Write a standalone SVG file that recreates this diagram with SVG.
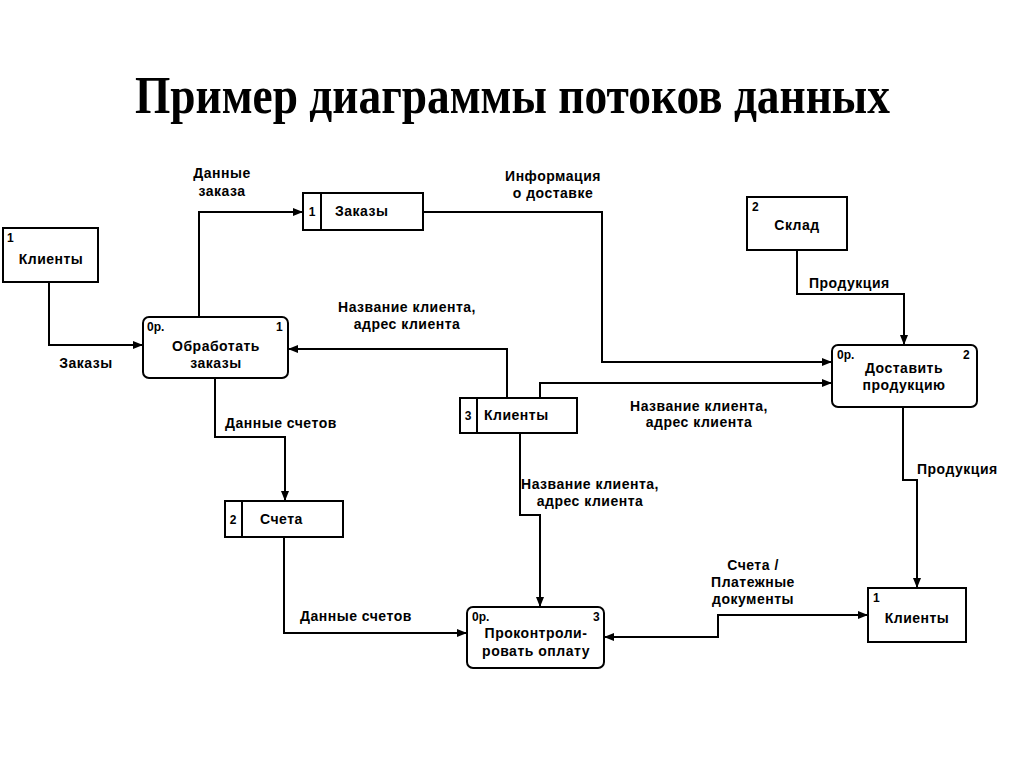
<svg xmlns="http://www.w3.org/2000/svg" width="1024" height="767" viewBox="0 0 1024 767">
<style>
.box{fill:#fff;stroke:#000;stroke-width:2}
.ln{fill:none;stroke:#000;stroke-width:2}
.t{font-family:"Liberation Sans",Arial,sans-serif;font-size:14px;letter-spacing:0.5px;font-weight:bold;fill:#000}
.c{text-anchor:middle}
.n{font-family:"Liberation Sans",Arial,sans-serif;font-size:12px;font-weight:bold;fill:#000}
.title{font-family:"Liberation Serif","Times New Roman",serif;font-size:52px;font-weight:bold;fill:#000}
</style>
<defs>
<marker id="ar" markerWidth="10" markerHeight="8" refX="9" refY="4" orient="auto" markerUnits="userSpaceOnUse">
<path d="M0,0 L10,4 L0,8 Z" fill="#000"/>
</marker>
<marker id="arS" markerWidth="10" markerHeight="8" refX="1" refY="4" orient="auto" markerUnits="userSpaceOnUse">
<path d="M10,0 L0,4 L10,8 Z" fill="#000"/>
</marker>
</defs>
<rect width="1024" height="767" fill="#fff"/>
<text class="title" x="135" y="113" textLength="755" lengthAdjust="spacingAndGlyphs">Пример диаграммы потоков данных</text>

<g id="connectors">
<path class="ln" d="M49,282 V345 H142" marker-end="url(#ar)"/>
<path class="ln" d="M199,317 V212 H302" marker-end="url(#ar)"/>
<path class="ln" d="M423,212 H602 V362 H831" marker-end="url(#ar)"/>
<path class="ln" d="M797,250 V294 H904 V344" marker-end="url(#ar)"/>
<path class="ln" d="M540,398 V383 H831" marker-end="url(#ar)"/>
<path class="ln" d="M507,398 V349 H289" marker-end="url(#ar)"/>
<path class="ln" d="M903,407 V480 H917 V587" marker-end="url(#ar)"/>
<path class="ln" d="M520,433 V515 H540 V606" marker-end="url(#ar)"/>
<path class="ln" d="M215,378 V437 H285 V500" marker-end="url(#ar)"/>
<path class="ln" d="M284,537 V633 H466" marker-end="url(#ar)"/>
<path class="ln" d="M605,637 H718 V615 H867" marker-start="url(#arS)" marker-end="url(#ar)"/>
</g>

<g id="labels">
<text class="t c" x="222" y="178">Данные</text>
<text class="t c" x="222" y="196">заказа</text>
<text class="t c" x="553" y="181">Информация</text>
<text class="t c" x="553" y="198">о доставке</text>
<text class="t c" x="86" y="368">Заказы</text>
<text class="t c" x="407" y="312">Название клиента,</text>
<text class="t c" x="407" y="329">адрес клиента</text>
<text class="t" x="809" y="288">Продукция</text>
<text class="t c" x="699" y="411">Название клиента,</text>
<text class="t c" x="699" y="427">адрес клиента</text>
<text class="t" x="225" y="428">Данные счетов</text>
<text class="t c" x="590" y="489">Название клиента,</text>
<text class="t c" x="590" y="506">адрес клиента</text>
<text class="t" x="917" y="474">Продукция</text>
<text class="t" x="300" y="621">Данные счетов</text>
<text class="t c" x="753" y="570">Счета /</text>
<text class="t c" x="753" y="587">Платежные</text>
<text class="t c" x="753" y="604">документы</text>
</g>

<g id="ext-clients-1">
<rect class="box" x="3" y="228" width="95" height="54"/>
<text class="n" x="7" y="242">1</text>
<text class="t c" x="51" y="264">Клиенты</text>
</g>

<g id="proc-1">
<rect class="box" x="143" y="317" width="145" height="61" rx="6"/>
<text class="n" x="147" y="331">0р.</text>
<text class="n" x="276" y="331">1</text>
<text class="t c" x="216" y="351">Обработать</text>
<text class="t c" x="216" y="368">заказы</text>
</g>

<g id="store-orders">
<rect class="box" x="303" y="193" width="120" height="37"/>
<line class="ln" x1="321" y1="193" x2="321" y2="230"/>
<text class="n c" x="312" y="216">1</text>
<text class="t" x="335" y="216">Заказы</text>
</g>

<g id="ext-warehouse">
<rect class="box" x="747" y="197" width="100" height="53"/>
<text class="n" x="752" y="211">2</text>
<text class="t c" x="797" y="230">Склад</text>
</g>

<g id="proc-2">
<rect class="box" x="832" y="345" width="145" height="62" rx="6"/>
<text class="n" x="837" y="359">0р.</text>
<text class="n" x="963" y="359">2</text>
<text class="t c" x="904" y="373">Доставить</text>
<text class="t c" x="904" y="390">продукцию</text>
</g>

<g id="store-clients-3">
<rect class="box" x="460" y="398" width="117" height="35"/>
<line class="ln" x1="477" y1="398" x2="477" y2="433"/>
<text class="n c" x="468" y="420">3</text>
<text class="t" x="484" y="420">Клиенты</text>
</g>

<g id="store-invoices">
<rect class="box" x="225" y="501" width="118" height="36"/>
<line class="ln" x1="242" y1="501" x2="242" y2="537"/>
<text class="n c" x="233" y="524">2</text>
<text class="t" x="260" y="524">Счета</text>
</g>

<g id="proc-3">
<rect class="box" x="467" y="607" width="137" height="61" rx="6"/>
<text class="n" x="472" y="621">0р.</text>
<text class="n" x="593" y="621">3</text>
<text class="t c" x="536" y="638">Проконтроли-</text>
<text class="t c" x="536" y="656">ровать оплату</text>
</g>

<g id="ext-clients-1b">
<rect class="box" x="868" y="588" width="98" height="54"/>
<text class="n" x="873" y="602">1</text>
<text class="t c" x="917" y="623">Клиенты</text>
</g>
</svg>
